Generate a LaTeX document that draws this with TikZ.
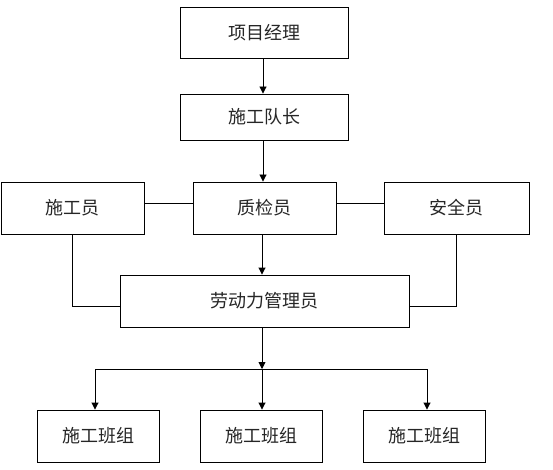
\documentclass[tikz,border=0pt]{standalone}
\usepackage{fontspec}
\newfontfamily\cjk{Noto Sans CJK SC}
\usetikzlibrary{arrows.meta}
\begin{document}
\begin{tikzpicture}[x=1pt,y=-1pt,
  box/.style={draw=black,line width=0.9pt,rectangle,inner sep=0pt,font=\cjk\fontsize{18}{21}\selectfont,text=black!85},
  con/.style={draw=black,line width=0.9pt},
  arr/.style={con,-{Triangle[width=7pt,length=7pt]}}]
\fill[white] (0,0) rectangle (553,470);
\useasboundingbox (0,0) rectangle (553,470);
\node[box,minimum width=168pt,minimum height=51pt] (pm) at (264,33) {项目经理};
\node[box,minimum width=168pt,minimum height=46pt] (dz) at (264,117) {施工队长};
\node[box,minimum width=143pt,minimum height=52pt] (sgy) at (72.5,208) {施工员};
\node[box,minimum width=143pt,minimum height=52pt] (zjy) at (264.5,208) {质检员};
\node[box,minimum width=145pt,minimum height=52pt] (aqy) at (456.5,208) {安全员};
\node[box,minimum width=289pt,minimum height=52pt] (ldl) at (264.5,301) {劳动力管理员};
\node[box,minimum width=122pt,minimum height=52pt] (b1) at (98,436) {施工班组};
\node[box,minimum width=122pt,minimum height=52pt] (b2) at (261,436) {施工班组};
\node[box,minimum width=122pt,minimum height=52pt] (b3) at (424,436) {施工班组};
\coordinate (J) at (262,369);
\coordinate (L) at (95,369);
\coordinate (R) at (427,369);
\draw[arr] (pm.south -| 263,0) -- (dz.north -| 263,0);
\draw[arr] (dz.south -| 263,0) -- (zjy.north -| 263,0);
\draw[arr] (zjy.south -| 262,0) -- (ldl.north -| 262,0);
\draw[con] ([yshift=5pt]sgy.east) -- ([yshift=5pt]zjy.west);
\draw[con] ([yshift=5pt]zjy.east) -- ([yshift=5pt]aqy.west);
\draw[con] (sgy.south) -- (sgy.south |- 0,306) -- (ldl.west |- 0,306);
\draw[con] (aqy.south) -- (aqy.south |- 0,306) -- (ldl.east |- 0,306);
\draw[arr] (ldl.south -| J) -- (J);
\draw[con] (L) -- (R);
\draw[arr] (L) -- (L |- b1.north);
\draw[arr] (J) -- (J |- b2.north);
\draw[arr] (R) -- (R |- b3.north);
\end{tikzpicture}
\end{document}
